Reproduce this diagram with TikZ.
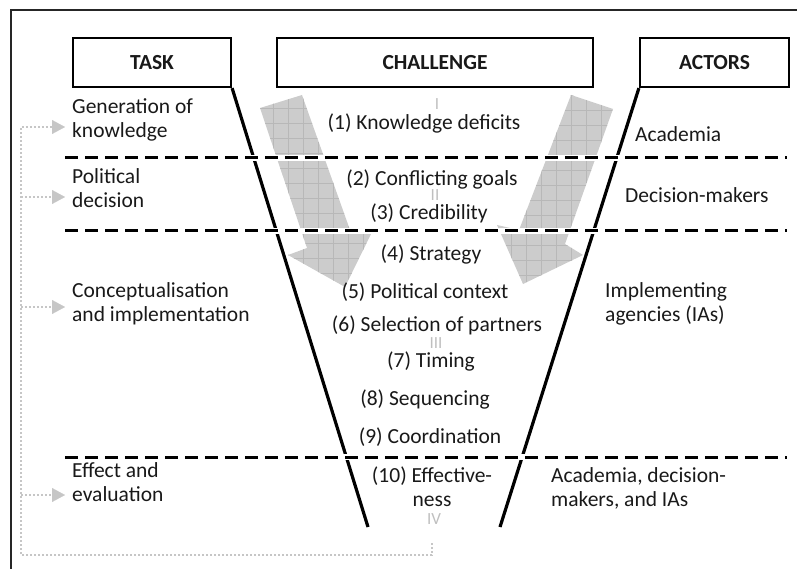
\documentclass[tikz,border=0pt]{standalone}
\usepackage{fontspec}
\setmainfont{Carlito}
\usetikzlibrary{arrows.meta}
\newcommand{\gridarrow}[3]{%
  \fill[gray!40] #1;
  \begin{scope}
    \clip #1;
    \foreach \k in {0,...,12} \draw[gray!56,line width=0.5pt] (#2+15*\k,80) -- (#2+15*\k,320);
    \foreach \k in {0,...,16} \draw[gray!56,line width=0.5pt] (230,#3+15*\k) -- (650,#3+15*\k);
  \end{scope}}
\begin{document}
\begin{tikzpicture}[x=1pt,y=-1pt,
  every node/.style={text=black!90,font=\fontsize{21.5}{24}\selectfont},
  head/.style={draw,line width=2.2pt,minimum height=49pt,inner sep=0pt,font=\fontsize{21.5}{24}\selectfont\bfseries},
  task/.style={anchor=base west,align=left,inner sep=0pt},
  chal/.style={anchor=base,align=center,inner sep=0pt},
  funnel/.style={line width=3.2pt},
  sepline/.style={line width=3pt,dash pattern=on 13pt off 7pt,preaction={draw=white,solid,line width=5.5pt}},
  roman/.style={anchor=base,inner sep=0pt,text height=8pt,text depth=0pt,text=gray!50,font=\fontsize{17}{18}\selectfont},
  fbline/.style={draw=gray!45,line width=2pt,dash pattern=on 2pt off 2pt,-{Triangle[length=13pt,width=14pt,line width=0.1pt]}}]
\useasboundingbox (0,0) rectangle (797,569);
\draw[line width=1.2pt,black!85] (11,569) -- (11,10) -- (797,10);

\gridarrow{(260,108) -- (302,95) -- (350,230) -- (372,232) -- (345,287) -- (288,255) -- (307,248) -- cycle}{243.3}{93.3}
\gridarrow{(571,95) -- (613,109) -- (565,244) -- (583,255) -- (523,284) -- (497,225) -- (519,230) -- cycle}{496.7}{95}

\node[head,minimum width=158pt] (task) at (152,62.5) {TASK};
\node[head,minimum width=316pt] (chal) at (435,62.5) {CHALLENGE};
\node[head,minimum width=149pt] (act) at (714.5,62.5) {ACTORS};
\coordinate (lb) at (368,527);
\coordinate (rb) at (500,527);
\draw[funnel] (task.south east) -- (lb);
\draw[funnel] (act.south west) -- (rb);
\foreach \y in {158,231,457} \draw[sepline] (65,\y) -- (787,\y);

\node[task] (gen) at (72,138) {Generation of\\knowledge};
\node[task] (pol) at (72,208) {Political\\decision};
\node[task] (con) at (72,321) {Conceptualisation\\and implementation};
\node[task] (eff) at (72,501) {Effect and\\evaluation};

\node[chal] (c1) at (424,130) {(1) Knowledge deficits};
\node[chal] (c2) at (432,186) {(2) Conflicting goals};
\node[chal] (c3) at (429,220) {(3) Credibility};
\node[chal] (c4) at (431,260) {(4) Strategy};
\node[chal] (c5) at (425,298) {(5) Political context};
\node[chal] (c6) at (437,331) {(6) Selection of partners};
\node[chal] (c7) at (431,367) {(7) Timing};
\node[chal] (c8) at (425,405) {(8) Sequencing};
\node[chal] (c9) at (430,443) {(9) Coordination};
\node[chal] (c10) at (432,506) {(10) Effective-\\ness};

\node[roman] (r1) at (437,110) {I};
\node[roman] (r2) at (435,201) {II};
\node[roman] (r3) at (436,348) {III};
\node[roman] (r4) at (434,524) {IV};

\node[task] (aca) at (635,142) {Academia};
\node[task] (dec) at (625,203) {Decision-makers};
\node[task] (imp) at (605,321) {Implementing\\agencies (IAs)};
\node[task] (all) at (551,506) {Academia, decision-\\makers, and IAs};

\coordinate (fb) at (432,543);
\coordinate (sp) at (21,555);
\coordinate (t1) at (65,127);
\coordinate (t2) at (65,197);
\coordinate (t3) at (65,307);
\coordinate (t4) at (65,495);
\draw[fbline] (fb) |- (sp) |- (t1);
\foreach \t in {t2,t3,t4} \draw[fbline] (sp |- \t) -- (\t);
\end{tikzpicture}
\end{document}
